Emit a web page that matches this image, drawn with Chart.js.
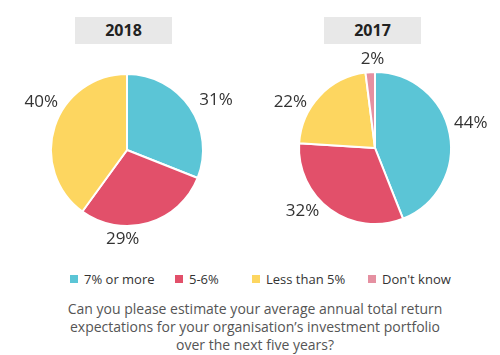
<!DOCTYPE html>
<html><head><meta charset="utf-8">
<script src="https://cdn.jsdelivr.net/npm/chart.js@4/dist/chart.umd.min.js"></script>
<style>
html,body{margin:0;padding:0;background:#fff;width:500px;height:355px;overflow:hidden;font-family:"Open Sans",sans-serif;}
.wrap{position:relative;width:500px;height:355px;}
canvas{position:absolute;}
.ttl{position:absolute;width:97px;height:27px;background:#e8e8e8;color:#222;font-weight:bold;font-size:16px;line-height:27px;text-align:center;}
#legend{position:absolute;top:270px;left:0;width:500px;height:18px;}
.li{position:absolute;font-size:13px;color:#333;line-height:18px;white-space:nowrap;}
.li span{display:inline-block;width:8px;height:8px;margin-right:6px;vertical-align:1px;}
#cap{position:absolute;top:300px;left:0;width:510px;text-align:center;font-size:14px;line-height:18px;color:#555;}
</style></head><body>
<div class="wrap">
<div class="ttl" style="left:75px;top:17px">2018</div>
<div class="ttl" style="left:324px;top:17px">2017</div>
<canvas id="c1" width="250" height="240" style="left:2px;top:30px"></canvas>
<canvas id="c2" width="250" height="240" style="left:250px;top:28px"></canvas>
<div id="legend"></div>
<div id="cap">Can you please estimate your average annual total return<br>expectations for your organisation’s investment portfolio<br>over the next five years?</div>
</div>
<script>
const categories = ["7% or more", "5-6%", "Less than 5%", "Don't know"];
const colors = ["#5bc5d6", "#e2506a", "#fdd660", "#e590a1"];
const values2018 = [31, 29, 40, 0];
const values2017 = [44, 32, 22, 2];

// label placement tweaks (degrees of angle shift, px beyond the rim)
const labelShift2018 = [5, 19, 11, 0];
const labelGap2018 = [26, 13, 22, 0];
const labelShift2017 = [-4, 13, -15, 2];
const labelGap2017 = [23, 20, 20, 13];

const legendX = [70, 175, 252, 368];
const leg = document.getElementById('legend');
categories.forEach((c,i)=>{
  const d=document.createElement('div');d.className='li';d.style.left=legendX[i]+'px';
  d.innerHTML='<span style="background:'+colors[i]+'"></span>'+c;leg.appendChild(d);
});

function labelPlugin(shift, gap){ return {
  id:'outLabels',
  afterDatasetsDraw(chart){
    const ctx=chart.ctx;const meta=chart.getDatasetMeta(0);const data=chart.data.datasets[0].data;
    ctx.save();ctx.font='17px "Open Sans"';ctx.fillStyle='#333';ctx.textAlign='center';ctx.textBaseline='middle';
    meta.data.forEach((arc,i)=>{
      if(!data[i]) return;
      const a=(arc.startAngle+arc.endAngle)/2 + shift[i]*Math.PI/180;
      const r=arc.outerRadius+gap[i];
      ctx.fillText(data[i]+'%', arc.x+Math.cos(a)*r, arc.y+Math.sin(a)*r);
    });
    ctx.restore();
  }
};}

function make(id, vals, shift, gap){
  new Chart(document.getElementById(id),{
    type:'pie',
    data:{labels:categories,datasets:[{data:vals,backgroundColor:colors,borderColor:'#fff',borderWidth:2}]},
    options:{responsive:false,animation:false,layout:{padding:{top:43,bottom:43}},
      plugins:{legend:{display:false},tooltip:{enabled:false}}},
    plugins:[labelPlugin(shift, gap)]
  });
}
make('c1', values2018, labelShift2018, labelGap2018);
make('c2', values2017, labelShift2017, labelGap2017);
</script>
</body></html>
